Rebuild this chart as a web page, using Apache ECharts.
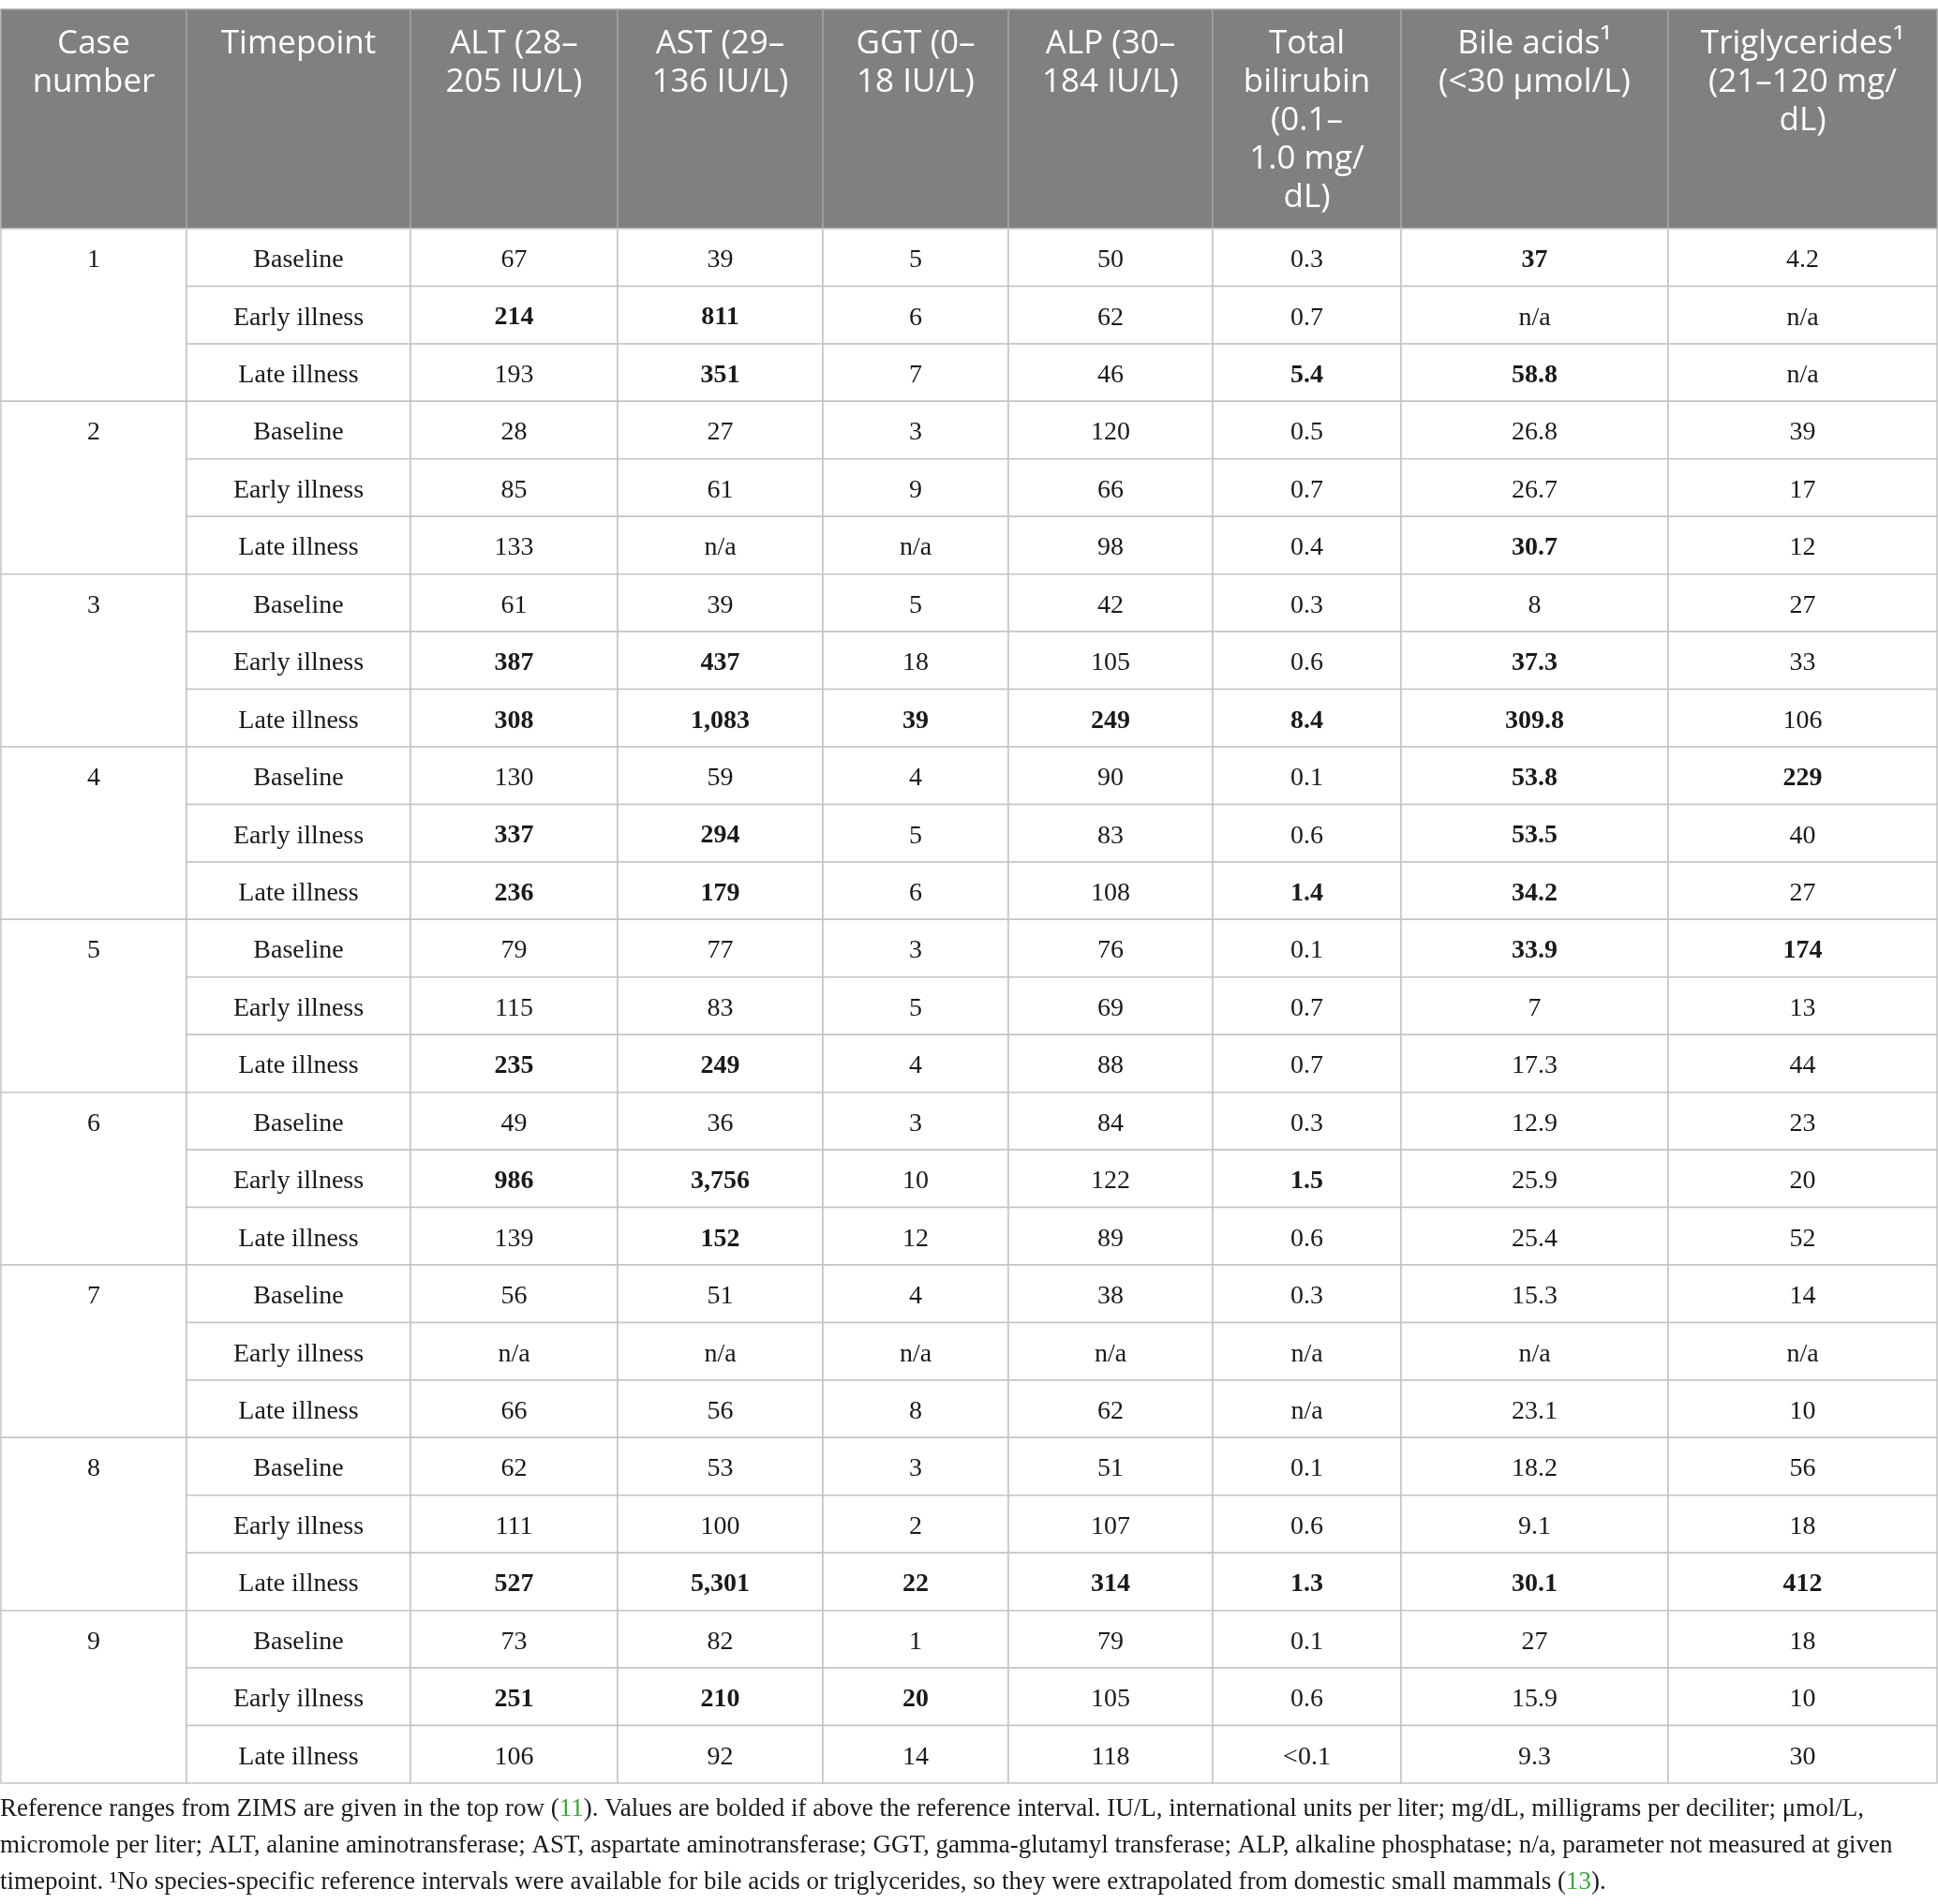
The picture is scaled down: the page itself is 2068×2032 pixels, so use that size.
<!DOCTYPE html>
<html>
<head>
<meta charset="utf-8">
<script src="https://cdn.jsdelivr.net/npm/echarts@6/dist/echarts.min.js"></script>
<style>
html, body { margin: 0; padding: 0; background: #fff; }
#main { width: 2068px; height: 2032px; }
</style>
</head>
<body>
<div id="main"></div>
<script>
// table content
var caseNumbers = ['1', '2', '3', '4', '5', '6', '7', '8', '9'];
var timepoints = ['Baseline', 'Early illness', 'Late illness'];

var headerLabels = [
    'Case\nnumber',
    'Timepoint',
    'ALT (28–\n205 IU/L)',
    'AST (29–\n136 IU/L)',
    'GGT (0–\n18 IU/L)',
    'ALP (30–\n184 IU/L)',
    'Total\nbilirubin\n(0.1–\n1.0 mg/\ndL)',
    'Bile acids¹\n(<30 μmol/L)',
    'Triglycerides¹\n(21–120 mg/\ndL)'
];

// upper end of each reference interval (values above it are bold)
var refUpper = [null, null, 205, 136, 18, 184, 1.0, 30, 120];

var alt = ['67', '214', '193', '28', '85', '133', '61', '387', '308', '130', '337', '236', '79', '115', '235', '49', '986', '139', '56', 'n/a', '66', '62', '111', '527', '73', '251', '106'];
var ast = ['39', '811', '351', '27', '61', 'n/a', '39', '437', '1,083', '59', '294', '179', '77', '83', '249', '36', '3,756', '152', '51', 'n/a', '56', '53', '100', '5,301', '82', '210', '92'];
var ggt = ['5', '6', '7', '3', '9', 'n/a', '5', '18', '39', '4', '5', '6', '3', '5', '4', '3', '10', '12', '4', 'n/a', '8', '3', '2', '22', '1', '20', '14'];
var alp = ['50', '62', '46', '120', '66', '98', '42', '105', '249', '90', '83', '108', '76', '69', '88', '84', '122', '89', '38', 'n/a', '62', '51', '107', '314', '79', '105', '118'];
var bilirubin = ['0.3', '0.7', '5.4', '0.5', '0.7', '0.4', '0.3', '0.6', '8.4', '0.1', '0.6', '1.4', '0.1', '0.7', '0.7', '0.3', '1.5', '0.6', '0.3', 'n/a', 'n/a', '0.1', '0.6', '1.3', '0.1', '0.6', '<0.1'];
var bileAcids = ['37', 'n/a', '58.8', '26.8', '26.7', '30.7', '8', '37.3', '309.8', '53.8', '53.5', '34.2', '33.9', '7', '17.3', '12.9', '25.9', '25.4', '15.3', 'n/a', '23.1', '18.2', '9.1', '30.1', '27', '15.9', '9.3'];
var triglycerides = ['4.2', 'n/a', 'n/a', '39', '17', '12', '27', '33', '106', '229', '40', '27', '174', '13', '44', '23', '20', '52', '14', 'n/a', '10', '56', '18', '412', '18', '10', '30'];

var footLines = [
    'Reference ranges from ZIMS are given in the top row ({g|11}). Values are bolded if above the reference interval. IU/L, international units per liter; mg/dL, milligrams per deciliter; μmol/L,',
    'micromole per liter; ALT, alanine aminotransferase; AST, aspartate aminotransferase; GGT, gamma-glutamyl transferase; ALP, alkaline phosphatase; n/a, parameter not measured at given',
    'timepoint. ¹No species-specific reference intervals were available for bile acids or triglycerides, so they were extrapolated from domestic small mammals ({g|13}).'
];

// layout: column widths in px
var colWidths = [198, 239, 221, 219, 198, 218, 201, 285, 287];
var colEdges = [0];
colWidths.forEach(function (w, i) { colEdges.push(colEdges[i] + w); });
var totalW = colEdges[colEdges.length - 1];

var rowNames = [];
caseNumbers.forEach(function (c) {
    timepoints.forEach(function (t) { rowNames.push(c + ' ' + t); });
});

var valueCols = [alt, ast, ggt, alp, bilirubin, bileAcids, triglycerides];

function cellText(c, r) {
    if (c === 0) return caseNumbers[Math.floor(r / 3)];
    if (c === 1) return timepoints[r % 3];
    return valueCols[c - 2][r];
}

function isBold(c, r) {
    if (refUpper[c] == null) return false;
    var s = cellText(c, r);
    if (s === 'n/a' || s.charAt(0) === '<') return false;
    return Number(s.replace(/,/g, '')) > refUpper[c];
}

var bodyData = [];
for (var r = 0; r < rowNames.length; r++) {
    for (var c = 0; c < headerLabels.length; c++) {
        if (c === 0 && r % 3 !== 0) continue;
        bodyData.push([c, r]);
    }
}
var headData = headerLabels.map(function (h, i) { return [i, 0]; });

var serif = '"Liberation Serif", "DejaVu Serif", serif';
var sans = '"Open Sans", "Noto Sans", sans-serif';

function renderBody(params, api) {
    var c = api.value(0), r = api.value(1);
    var x0 = api.coord([colEdges[c], r])[0];
    var x1 = api.coord([colEdges[c + 1], r])[0];
    var yc = api.coord([0, r])[1];
    var h = api.size([0, 1])[1];
    var span = c === 0 ? 3 : 1;
    return {
        type: 'group',
        children: [{
            type: 'rect',
            shape: { x: x0, y: yc - h / 2, width: x1 - x0, height: h * span },
            style: { fill: '#fff', stroke: '#c4c4c4', lineWidth: 1.5 }
        }, {
            type: 'text',
            style: {
                x: (x0 + x1) / 2, y: yc + 3,
                text: cellText(c, r),
                align: 'center', verticalAlign: 'middle',
                fontFamily: serif, fontSize: 28,
                fontWeight: isBold(c, r) ? 'bold' : 'normal',
                fill: '#1a1a1a'
            }
        }]
    };
}

function renderHead(params, api) {
    var c = api.value(0);
    var x0 = api.coord([colEdges[c], 0])[0];
    var x1 = api.coord([colEdges[c + 1], 0])[0];
    var yc = api.coord([0, 0])[1];
    var h = api.size([0, 1])[1];
    return {
        type: 'group',
        children: [{
            type: 'rect',
            shape: { x: x0, y: yc - h / 2, width: x1 - x0, height: h },
            style: { fill: '#7f807f', stroke: '#a3a3a3', lineWidth: 1.5 }
        }, {
            type: 'text',
            style: {
                x: (x0 + x1) / 2, y: yc - h / 2 + 17,
                text: headerLabels[c],
                align: 'center', verticalAlign: 'top',
                fontFamily: sans, fontSize: 35, lineHeight: 41,
                fill: '#fff'
            }
        }]
    };
}

var chart = echarts.init(document.getElementById('main'));
chart.setOption({
    animation: false,
    title: {
        left: 0, top: 1911,
        padding: 0,
        text: footLines.join('\n'),
        textStyle: {
            fontFamily: serif, fontSize: 27, lineHeight: 39,
            fontWeight: 'normal', color: '#1a1a1a',
            rich: { g: { color: '#3fa33f', fontFamily: serif, fontSize: 27, lineHeight: 39 } }
        }
    },
    grid: [
        { left: 1, width: totalW, top: 10, height: 234 },
        { left: 1, width: totalW, top: 244, height: 1659 }
    ],
    xAxis: [
        { type: 'value', gridIndex: 0, min: 0, max: totalW, show: false },
        { type: 'value', gridIndex: 1, min: 0, max: totalW, show: false }
    ],
    yAxis: [
        { type: 'category', gridIndex: 0, data: ['header'], show: false },
        { type: 'category', gridIndex: 1, data: rowNames, inverse: true, show: false }
    ],
    series: [{
        type: 'custom', xAxisIndex: 0, yAxisIndex: 0,
        renderItem: renderHead, data: headData, clip: false
    }, {
        type: 'custom', xAxisIndex: 1, yAxisIndex: 1,
        renderItem: renderBody, data: bodyData, clip: false
    }]
});
</script>
</body>
</html>
